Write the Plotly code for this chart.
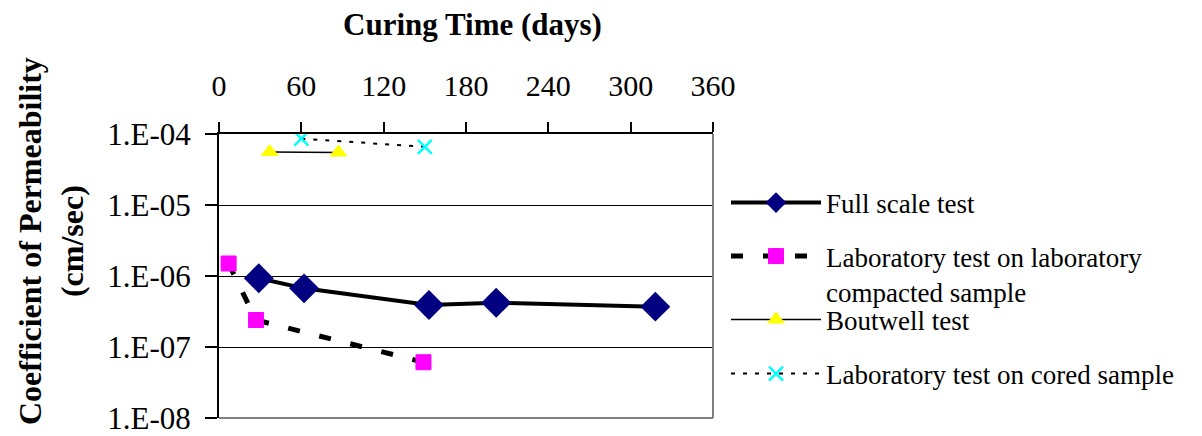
import plotly.graph_objects as go

# ---- data ----
full_days = [29, 62, 153, 202, 318]
full_k = [9.3e-7, 6.7e-7, 3.9e-7, 4.2e-7, 3.7e-7]

labc_days = [7, 27, 149]
labc_k = [1.5e-6, 2.4e-7, 6.1e-8]

bout_days = [37, 87]
bout_k = [5.6e-5, 5.5e-5]

cored_days = [60, 150]
cored_k = [8.6e-5, 6.6e-5]

x_ticks = [0, 60, 120, 180, 240, 300, 360]
y_tickvals = [1e-8, 1e-7, 1e-6, 1e-5, 1e-4]
y_ticktext = ["1.E-08", "1.E-07", "1.E-06", "1.E-05", "1.E-04"]

names = ["Full scale test",
         "Laboratory test on laboratory<br>compacted sample",
         "Boutwell test",
         "Laboratory test on cored sample"]

FONT = "Liberation Serif, Times New Roman, serif"

fig = go.Figure()
fig.add_trace(go.Scatter(
    x=full_days, y=full_k, name=names[0], mode="lines+markers",
    line=dict(color="black", width=4),
    marker=dict(symbol="diamond", size=23, color="#000080"),
    legend="legend"))
fig.add_trace(go.Scatter(
    x=labc_days, y=labc_k, name=names[1], mode="lines+markers",
    line=dict(color="black", width=5, dash="12px,20px"),
    marker=dict(symbol="square", size=15, color="#FF00FF",
                line=dict(color="#FF00FF", width=1)),
    legend="legend2"))
fig.add_trace(go.Scatter(
    x=bout_days, y=bout_k, name=names[2], mode="lines+markers",
    line=dict(color="black", width=1.5),
    marker=dict(symbol="triangle-up", size=16, color="#FFFF00"),
    legend="legend3"))
fig.add_trace(go.Scatter(
    x=cored_days, y=cored_k, name=names[3], mode="lines+markers",
    line=dict(color="black", width=2, dash="4px,8px"),
    marker=dict(symbol="x-thin", size=14, color="#00FFFF",
                line=dict(color="#00FFFF", width=2.5)),
    legend="legend4"))

leg_common = dict(xanchor="left", yanchor="middle", bgcolor="rgba(0,0,0,0)",
                  font=dict(family=FONT, size=27, color="black"),
                  itemwidth=90, valign="top", itemclick=False)

# page body has an 8px margin: lay the figure out in reference pixels minus 8
OFF = 8
W = 1202 - OFF
H = 436 - OFF
L0 = 219; R0 = 713; T0 = 134; B0 = 418   # plot area in reference pixels
def px_x(px):
    return (px - L0) / (R0 - L0)
def px_y(py):
    return (B0 - py) / (B0 - T0)

lx = px_x(726)
fig.update_layout(
    width=W, height=H,
    showlegend=True,
    margin=dict(l=L0 - OFF, r=W - (R0 - OFF), t=T0 - OFF, b=H - (B0 - OFF),
                autoexpand=False),
    paper_bgcolor="white", plot_bgcolor="white",
    font=dict(family=FONT, color="black"),
    legend=dict(x=lx, y=px_y(203), **leg_common),
    legend2=dict(x=lx, y=px_y(274), **leg_common),
    legend3=dict(x=lx, y=px_y(320), **leg_common),
    legend4=dict(x=lx, y=px_y(374), **leg_common),
    xaxis=dict(range=[0, 360], tickvals=x_ticks, side="top",
               showline=True, linecolor="black", linewidth=2,
               ticks="outside", ticklen=10, tickwidth=2, tickcolor="black",
               showgrid=False, zeroline=False, automargin=False,
               tickfont=dict(family=FONT, size=30, color="black"),
               ticklabelstandoff=14),
    yaxis=dict(type="log", range=[-8, -4], tickvals=y_tickvals, ticktext=y_ticktext,
               showline=True, linecolor="black", linewidth=2,
               ticks="outside", ticklen=12, tickwidth=1.5, tickcolor="black",
               showgrid=True, gridcolor="black", gridwidth=1, zeroline=False,
               automargin=False,
               tickfont=dict(family=FONT, size=31, color="black"),
               ticklabelstandoff=8),
    annotations=[
        dict(text="<b>Curing Time (days)</b>", xref="paper", yref="paper",
             x=px_x(472), y=px_y(25), xanchor="center", yanchor="middle",
             showarrow=False, font=dict(family=FONT, size=31, color="black")),
        dict(text="<b>Coefficient of Permeability<br>(cm/sec)</b>", xref="paper", yref="paper",
             x=px_x(51), y=px_y(241), xanchor="center", yanchor="middle", textangle=-90,
             showarrow=False, font=dict(family=FONT, size=32, color="black")),
    ],
    shapes=[
        dict(type="line", xref="paper", yref="paper", x0=0, x1=1, y0=0, y1=0,
             line=dict(color="#808080", width=2), layer="above"),
        dict(type="line", xref="paper", yref="paper", x0=1, x1=1, y0=0, y1=1,
             line=dict(color="#808080", width=2), layer="above"),
    ],
)

fig.write_html("out.html")
